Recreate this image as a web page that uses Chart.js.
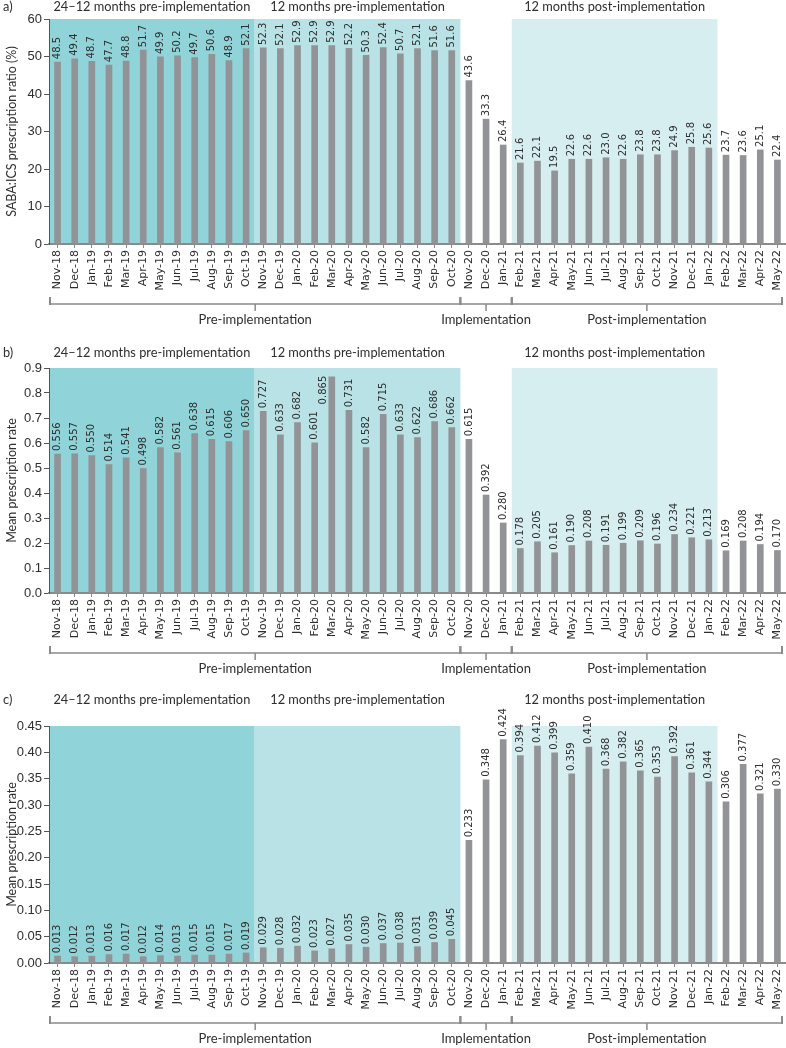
<!DOCTYPE html>
<html>
<head>
<meta charset="utf-8">
<script src="https://cdn.jsdelivr.net/npm/chart.js@4"></script>
<style>
  html, body { margin: 0; padding: 0; background: #fff; overflow: hidden; }
  canvas { display: block; }
</style>
</head>
<body>
<canvas id="chart-a" width="786" height="345"></canvas>
<canvas id="chart-b" width="786" height="349"></canvas>
<canvas id="chart-c" width="786" height="354"></canvas>
<script>
/*  ---------------------------- DATA ----------------------------  */
const months = [
  "Nov-18", "Dec-18", "Jan-19", "Feb-19", "Mar-19", "Apr-19", "May-19", "Jun-19",
  "Jul-19", "Aug-19", "Sep-19", "Oct-19", "Nov-19", "Dec-19", "Jan-20", "Feb-20",
  "Mar-20", "Apr-20", "May-20", "Jun-20", "Jul-20", "Aug-20", "Sep-20", "Oct-20",
  "Nov-20", "Dec-20", "Jan-21", "Feb-21", "Mar-21", "Apr-21", "May-21", "Jun-21",
  "Jul-21", "Aug-21", "Sep-21", "Oct-21", "Nov-21", "Dec-21", "Jan-22", "Feb-22",
  "Mar-22", "Apr-22", "May-22",
];

// a) SABA:ICS ratio (%)
const ratioPct = [
  48.5, 49.4, 48.7, 47.7, 48.8, 51.7, 49.9, 50.2, 49.7, 50.6, 48.9, 52.1,
  52.3, 52.1, 52.9, 52.9, 52.9, 52.2, 50.3, 52.4, 50.7, 52.1, 51.6, 51.6,
  43.6, 33.3, 26.4,
  21.6, 22.1, 19.5, 22.6, 22.6, 23.0, 22.6, 23.8, 23.8, 24.9, 25.8, 25.6,
  23.7, 23.6, 25.1, 22.4,
];

// b) mean prescription rate
const rateB = [
  0.556, 0.557, 0.550, 0.514, 0.541, 0.498, 0.582, 0.561, 0.638, 0.615, 0.606, 0.650,
  0.727, 0.633, 0.682, 0.601, 0.865, 0.731, 0.582, 0.715, 0.633, 0.622, 0.686, 0.662,
  0.615, 0.392, 0.280,
  0.178, 0.205, 0.161, 0.190, 0.208, 0.191, 0.199, 0.209, 0.196, 0.234, 0.221, 0.213,
  0.169, 0.208, 0.194, 0.170,
];

// c) mean prescription rate
const rateC = [
  0.013, 0.012, 0.013, 0.016, 0.017, 0.012, 0.014, 0.013, 0.015, 0.015, 0.017, 0.019,
  0.029, 0.028, 0.032, 0.023, 0.027, 0.035, 0.030, 0.037, 0.038, 0.031, 0.039, 0.045,
  0.233, 0.348, 0.424,
  0.394, 0.412, 0.399, 0.359, 0.410, 0.368, 0.382, 0.365, 0.353, 0.392, 0.361, 0.344,
  0.306, 0.377, 0.321, 0.330,
];

// shaded periods (first month, last month, header)
const periodFrom = ["Nov-18", "Nov-19", "Feb-21"];
const periodTo = ["Oct-19", "Oct-20", "Jan-22"];
const periodTitles = [
  "24–12 months pre-implementation",
  "12 months pre-implementation",
  "12 months post-implementation",
];

// brackets under the axis
const phaseFrom = ["Nov-18", "Nov-20", "Feb-21"];
const phaseTo = ["Oct-20", "Jan-21", "May-22"];
const phaseNames = ["Pre-implementation", "Implementation", "Post-implementation"];
/*  ---------------------------------------------------------------  */

const periodColors = ["#90d3d8", "#b8e2e6", "#d7eef0"];
const barColor = "#929396";
const textColor = "#2e2e2e";
const headFont = "12.8px Lato, 'Open Sans', sans-serif";

const phasesPlugin = {
  id: "phases",
  beforeDraw(chart) {
    const { ctx, chartArea: a, scales: { x } } = chart;
    const step = x.getPixelForValue(1) - x.getPixelForValue(0);
    ctx.save();
    periodFrom.forEach((from, i) => {
      const l = x.getPixelForValue(months.indexOf(from)) - step / 2;
      const r = x.getPixelForValue(months.indexOf(periodTo[i])) + step / 2;
      ctx.fillStyle = periodColors[i];
      ctx.fillRect(l, a.top, r - l, a.bottom - a.top);
    });
    ctx.restore();
  },
  afterDraw(chart) {
    const { ctx, chartArea: a, scales: { x } } = chart;
    const o = chart.options.plugins.phases;
    const step = x.getPixelForValue(1) - x.getPixelForValue(0);
    ctx.save();

    // panel tag
    ctx.fillStyle = textColor;
    ctx.font = headFont;
    ctx.textBaseline = "middle";
    ctx.textAlign = "left";
    ctx.fillText(o.tag, 3, o.headY);

    // period headers
    ctx.textAlign = "center";
    periodFrom.forEach((from, i) => {
      const l = x.getPixelForValue(months.indexOf(from)) - step / 2;
      const r = x.getPixelForValue(months.indexOf(periodTo[i])) + step / 2;
      ctx.fillText(periodTitles[i], (l + r) / 2, o.headY);
    });

    // bracket
    const by = a.bottom + 60;
    ctx.font = "13px Lato, 'Open Sans', sans-serif";
    ctx.strokeStyle = "#8a8a8a";
    ctx.lineWidth = 1.5;
    const ends = [];
    phaseFrom.forEach((from, i) => {
      let l = x.getPixelForValue(months.indexOf(from)) - step / 2;
      let r = x.getPixelForValue(months.indexOf(phaseTo[i])) + step / 2;
      if (i === 0) l = a.left + 1;
      if (i === phaseFrom.length - 1) r = Math.min(r, chart.width - 4);
      ends.push(l, r);
      ctx.beginPath();
      ctx.moveTo(l, by);
      ctx.lineTo(r, by);
      ctx.moveTo((l + r) / 2, by);
      ctx.lineTo((l + r) / 2, by + 7);
      ctx.stroke();
      ctx.fillText(phaseNames[i], (l + r) / 2, by + 16);
    });
    ctx.lineWidth = 2;
    ends.forEach((px) => {
      ctx.beginPath();
      ctx.moveTo(px, by - 7);
      ctx.lineTo(px, by + 1);
      ctx.stroke();
    });
    ctx.restore();
  },
};

// value labels above the bars; a label that would run into the header goes beside its bar
const barLabels = {
  id: "barLabels",
  afterDatasetsDraw(chart) {
    const { ctx } = chart;
    const o = chart.options.plugins.barLabels;
    const meta = chart.getDatasetMeta(0);
    const data = chart.data.datasets[0].data;
    ctx.save();
    ctx.fillStyle = textColor;
    ctx.font = "10px 'DejaVu Sans', sans-serif";
    ctx.textBaseline = "middle";
    meta.data.forEach((bar, i) => {
      const txt = data[i].toFixed(o.digits);
      const w = ctx.measureText(txt).width;
      ctx.save();
      if (bar.y - 3 - w < o.headY + 4) {
        ctx.translate(bar.x - 8, bar.y - 1);
        ctx.textAlign = "right";
      } else {
        ctx.translate(bar.x, bar.y - 3);
        ctx.textAlign = "left";
      }
      ctx.rotate(-Math.PI / 2);
      ctx.fillText(txt, 0, 0);
      ctx.restore();
    });
    ctx.restore();
  },
};

function makePanel(p) {
  const canvas = document.getElementById(p.id);
  return new Chart(canvas.getContext("2d"), {
    type: "bar",
    data: {
      labels: months,
      datasets: [
        {
          data: p.values,
          backgroundColor: barColor,
          barThickness: 6,
        },
      ],
    },
    plugins: [phasesPlugin, barLabels],
    options: {
      responsive: false,
      animation: false,
      layout: { padding: { top: p.padTop, bottom: 0, left: 0, right: 0 } },
      plugins: {
        legend: { display: false },
        tooltip: { enabled: false },
        phases: { tag: p.tag, headY: p.headY },
        barLabels: { digits: p.labelDigits, headY: p.headY },
      },
      scales: {
        x: {
          afterFit: (s) => {
            s.height = p.xAxisH;
            s.paddingLeft = 0;
            s.paddingRight = 0;
          },
          border: { color: "#8a8a8a", width: 2 },
          grid: { offset: false, drawOnChartArea: false, tickLength: 4, color: "#8a8a8a" },
          ticks: {
            autoSkip: false,
            minRotation: 90,
            maxRotation: 90,
            padding: 2,
            color: textColor,
            font: { family: "'DejaVu Sans', sans-serif", size: 11 },
          },
        },
        y: {
          min: 0,
          max: p.yMax,
          afterFit: (s) => {
            s.width = 49;
            s.paddingTop = 0;
            s.paddingBottom = 0;
          },
          border: { color: "#555", width: 1 },
          grid: { drawOnChartArea: false, tickLength: 5, color: "#555" },
          title: {
            display: true,
            text: p.yTitle,
            color: textColor,
            font: { family: "Lato, 'Open Sans', sans-serif", size: 12.5 },
            padding: { top: 4, bottom: 0 },
          },
          ticks: {
            stepSize: p.yStep,
            padding: 2,
            color: textColor,
            font: { family: "'Liberation Sans Narrow', 'Liberation Sans', sans-serif", size: 13 },
            callback: (v) => v.toFixed(p.tickDigits),
          },
        },
      },
    },
  });
}

makePanel({
  id: "chart-a", tag: "a)", values: ratioPct, yMax: 60, yStep: 10,
  yTitle: "SABA:ICS prescription ratio (%)", padTop: 19, headY: 7, xAxisH: 101,
  tickDigits: 0, labelDigits: 1,
});
makePanel({
  id: "chart-b", tag: "b)", values: rateB, yMax: 0.9, yStep: 0.1,
  yTitle: "Mean prescription rate", padTop: 23, headY: 8, xAxisH: 101,
  tickDigits: 1, labelDigits: 3,
});
makePanel({
  id: "chart-c", tag: "c)", values: rateC, yMax: 0.45, yStep: 0.05,
  yTitle: "Mean prescription rate", padTop: 32, headY: 6, xAxisH: 85,
  tickDigits: 2, labelDigits: 3,
});
</script>
</body>
</html>
